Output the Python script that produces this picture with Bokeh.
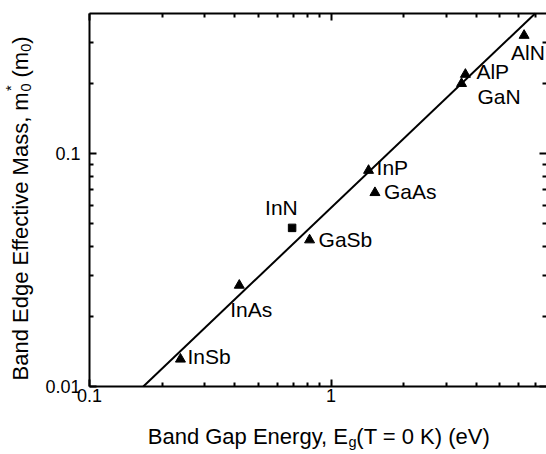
import math
from bokeh.plotting import figure
from bokeh.models import (Range1d, LogAxis, FixedTicker, CustomJSTickFormatter,
                          ColumnDataSource)
from bokeh.core.properties import value
from bokeh.embed import file_html
from bokeh.resources import INLINE

# ---------------- data ----------------
materials = ["InSb", "InAs", "InN", "GaSb", "InP", "GaAs", "GaN", "AlP", "AlN"]
band_gap = [0.238, 0.417, 0.69, 0.815, 1.43, 1.52, 3.47, 3.60, 6.3]
eff_mass = [0.0131, 0.0272, 0.048, 0.0426, 0.0847, 0.068, 0.200, 0.219, 0.322]
marker_kind = ["triangle", "triangle", "square", "triangle", "triangle",
               "triangle", "triangle", "triangle", "triangle"]

fit_x = [0.167, 7.0]
fit_y = [0.01, 0.40]

x_major = [0.1, 1]
x_major_labels = ["0.1", "1"]
x_minor = [0.2, 0.3, 0.4, 0.5, 0.6, 0.7, 0.8, 0.9, 2, 3, 4, 5, 6, 7]
y_major = [0.01, 0.1]
y_major_labels = ["0.01", "0.1"]
y_minor = [0.02, 0.03, 0.04, 0.05, 0.06, 0.07, 0.08, 0.09, 0.2, 0.3]

# label offsets (screen px, from point to text left/baseline)
label_dx = [7, -9, -27, 9, 8, 9, 16, 11, -13]
label_dy = [-3, 24, -20, 0, -3, -1.5, 13, -3, 17]

# ---------------- layout ----------------
W, H = 546, 454
L, R, T, B = 89, 546, 13, 386          # inner plotting box (pixels)
XLO, XHI = 0.1, 7.8
YLO, YHI = 0.01, 0.4
FONT = "Liberation Sans"


def sx(px):
    return 10 ** (math.log10(XLO) + (px - L) / (R - L) * (math.log10(XHI) - math.log10(XLO)))


def sy(py):
    return 10 ** (math.log10(YLO) + (B - py) / (B - T) * (math.log10(YHI) - math.log10(YLO)))


p = figure(width=W, height=H, x_axis_type="log", y_axis_type="log",
           x_axis_location=None, y_axis_location=None,
           x_range=Range1d(sx(0), sx(W)), y_range=Range1d(sy(H), sy(0)),
           output_backend="svg", toolbar_location=None,
           min_border_left=0, min_border_right=0, min_border_top=0,
           min_border_bottom=0)
p.title.visible = False
p.outline_line_color = None
p.grid.visible = False
p.background_fill_color = "white"
p.border_fill_color = "white"


def fmt(vals, labs):
    return CustomJSTickFormatter(args=dict(vals=vals, labs=labs), code="""
        for (let i = 0; i < vals.length; i++) {
            if (Math.abs(Math.log10(vals[i]) - Math.log10(tick)) < 1e-6) return labs[i];
        }
        return "";
    """)


def base_axis(ax, show_line=True):
    ax.axis_line_color = "black" if show_line else None
    ax.axis_line_width = 2
    ax.major_tick_line_color = "black"
    ax.minor_tick_line_color = "black"
    ax.major_tick_line_width = 2
    ax.minor_tick_line_width = 2
    ax.major_tick_in = 7
    ax.major_tick_out = 0
    ax.minor_tick_in = 4
    ax.minor_tick_out = 0
    ax.major_label_text_font = FONT
    ax.major_label_text_font_size = "18px"
    ax.major_label_text_color = "black"
    return ax


def labelled_axis(loc, bounds, major, minor, labels):
    ax = LogAxis(fixed_location=loc, bounds=bounds,
                 ticker=FixedTicker(ticks=major, minor_ticks=minor),
                 formatter=fmt(major, labels))
    return base_axis(ax)


def mirror_axes(loc, bounds, major, minor, side, show_line):
    # minor ticks only (no labels): one axis for the short ticks, one for the long ones
    a = base_axis(LogAxis(fixed_location=loc, bounds=bounds,
                          ticker=FixedTicker(ticks=[], minor_ticks=minor)), show_line)
    b = base_axis(LogAxis(fixed_location=loc, bounds=bounds,
                          ticker=FixedTicker(ticks=[], minor_ticks=major)), False)
    b.minor_tick_in = 7
    p.add_layout(a, side)
    p.add_layout(b, side)


bottom = labelled_axis(YLO, (XLO, XHI), x_major, x_minor, x_major_labels)
bottom.major_label_standoff = 2
p.add_layout(bottom, "below")

left = labelled_axis(XLO, (YLO, YHI), y_major, y_minor, y_major_labels)
left.major_label_standoff = 9
p.add_layout(left, "left")

mirror_axes(YHI, (XLO, XHI), x_major, x_minor, "above", True)
mirror_axes(XHI, (YLO, YHI), y_major, y_minor, "right", False)

# fit line
p.line(fit_x, fit_y, line_color="black", line_width=2)

# points
src = ColumnDataSource(dict(x=band_gap, y=eff_mass, name=materials,
                            dx=label_dx, dy=label_dy))
tri = [i for i, k in enumerate(marker_kind) if k == "triangle"]
sq = [i for i, k in enumerate(marker_kind) if k == "square"]
p.scatter([band_gap[i] for i in tri], [eff_mass[i] for i in tri], marker="triangle",
          size=10, color="black")
p.scatter([band_gap[i] for i in sq], [eff_mass[i] for i in sq], marker="square",
          size=7.5, color="black")

p.text(x="x", y="y", text="name", x_offset="dx", y_offset="dy", source=src,
       text_font=value(FONT), text_font_size=value("21px"), text_color="black",
       text_align="left", text_baseline="alphabetic")


# axis titles (composite, with sub/superscripts)
def lab(text, px, py, size, align="left", angle=0):
    p.text(x=[sx(px)], y=[sy(py)], text=[text], text_font=value(FONT),
           text_font_size=value(size), text_color="black", text_align=align,
           text_baseline="alphabetic", angle=angle, angle_units="deg")


lab("Band Gap Energy, E", 347.4, 436, "22px", align="right")
lab("g", 347.9, 441, "14.5px")
lab("(T = 0 K) (eV)", 355.8, 436, "22px")

lab("Band Edge Effective Mass, m", 20, 380, "22px", angle=90)
lab("*", 10, 90.5, "14.5px", angle=90)
lab("0", 25, 91, "14.5px", angle=90)
lab("(m", 20, 77, "22px", angle=90)
lab("0", 25, 51.2, "14.5px", angle=90)
lab(")", 20, 43.2, "22px", angle=90)

open("out.html", "w").write(file_html(p, INLINE))
